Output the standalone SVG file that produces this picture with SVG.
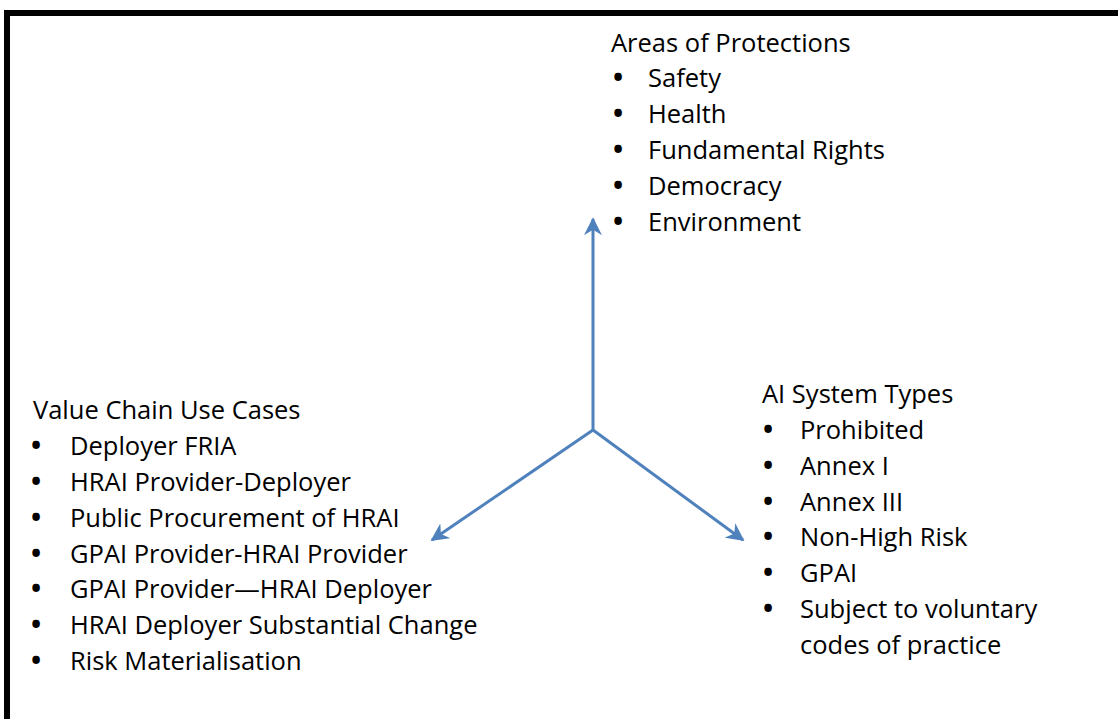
<svg xmlns="http://www.w3.org/2000/svg" width="1118" height="719" viewBox="0 0 1118 719">
<defs>
<style>
text{font-family:"Open Sans","Noto Sans",sans-serif;font-size:25.5px;fill:#000}
text.b{font-size:27px;font-weight:bold}
.c{stroke:#4f81bd;stroke-width:3;fill:none}
</style>
<marker id="ah" viewBox="0 0 10 10" refX="9" refY="5" markerWidth="6" markerHeight="6" orient="auto" markerUnits="strokeWidth">
<path d="M0,0 L10,5 L0,10 L3,5 Z" fill="#4f81bd"/>
</marker>
</defs>
<rect x="0" y="0" width="1118" height="719" fill="#fff"/>
<rect x="7" y="13" width="1130" height="730" fill="none" stroke="#000" stroke-width="6"/>
<g id="connectors">
<line class="c" x1="593" y1="430" x2="593" y2="219" marker-end="url(#ah)"/>
<line class="c" x1="593" y1="430" x2="432" y2="540" marker-end="url(#ah)"/>
<line class="c" x1="593" y1="430" x2="743" y2="540" marker-end="url(#ah)"/>
</g>
<g id="areas">
<text x="611" y="52">Areas of Protections</text>
<text class="b" x="613" y="87">•</text><text x="648" y="87">Safety</text>
<text class="b" x="613" y="123">•</text><text x="648" y="123">Health</text>
<text class="b" x="613" y="159">•</text><text x="648" y="159">Fundamental Rights</text>
<text class="b" x="613" y="195">•</text><text x="648" y="195">Democracy</text>
<text class="b" x="613" y="231">•</text><text x="648" y="231">Environment</text>
</g>
<g id="value-chain">
<text x="33" y="419">Value Chain Use Cases</text>
<text class="b" x="31" y="455">•</text><text x="70" y="455">Deployer FRIA</text>
<text class="b" x="31" y="491">•</text><text x="70" y="491">HRAI Provider-Deployer</text>
<text class="b" x="31" y="527">•</text><text x="70" y="527">Public Procurement of HRAI</text>
<text class="b" x="31" y="563">•</text><text x="70" y="563">GPAI Provider-HRAI Provider</text>
<text class="b" x="31" y="598">•</text><text x="70" y="598">GPAI Provider—HRAI Deployer</text>
<text class="b" x="31" y="634">•</text><text x="70" y="634">HRAI Deployer Substantial Change</text>
<text class="b" x="31" y="670">•</text><text x="70" y="670">Risk Materialisation</text>
</g>
<g id="system-types">
<text x="762" y="403">AI System Types</text>
<text class="b" x="763" y="439">•</text><text x="800" y="439">Prohibited</text>
<text class="b" x="763" y="475">•</text><text x="800" y="475">Annex I</text>
<text class="b" x="763" y="511">•</text><text x="800" y="511">Annex III</text>
<text class="b" x="763" y="546">•</text><text x="800" y="546">Non-High Risk</text>
<text class="b" x="763" y="582">•</text><text x="800" y="582">GPAI</text>
<text class="b" x="763" y="618">•</text><text x="800" y="618">Subject to voluntary</text>
<text x="800" y="654">codes of practice</text>
</g>
</svg>
